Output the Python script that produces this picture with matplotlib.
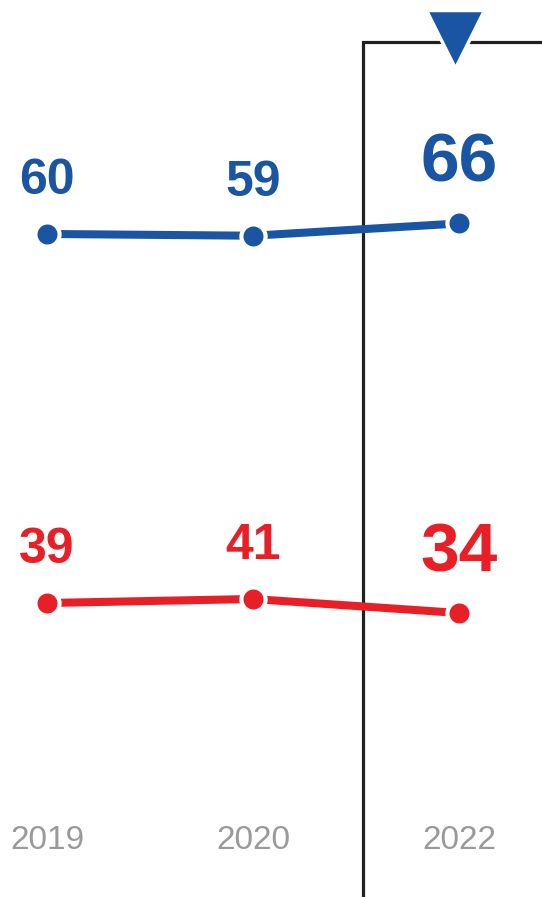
import matplotlib
matplotlib.use('Agg')
import matplotlib.pyplot as plt
import matplotlib.transforms as mtransforms

years = ['2019', '2020', '2022']
blue_vals = [60, 59, 66]
red_vals = [39, 41, 34]

BLUE = '#1a55a3'
RED = '#e81f27'
GRAY = '#9a9a9a'
DARK = '#231f20'

fig = plt.figure(figsize=(5.42, 8.97), dpi=100)
ax_b = fig.add_axes([0, 0, 1, 1])
ax_r = fig.add_axes([0, 0, 1, 1])
xs = list(range(len(years)))

for ax, vals, col, lims in [(ax_b, blue_vals, BLUE, (-318.9, 193.7)),
                            (ax_r, red_vals, RED, (-108, 340.5))]:
    ax.set_xlim(-0.228, 2.403)
    ax.set_ylim(*lims)
    ax.axis('off')
    ax.patch.set_alpha(0)
    ax.plot(xs, vals, color=col, lw=5.8, solid_capstyle='butt', zorder=3,
            marker='o', ms=17.4, mfc=col, mec='white', mew=3)
    for i, v in enumerate(vals):
        big = i == len(vals) - 1
        ax.annotate(str(v), (xs[i], v), xytext=(0, 30 if big else 28.5),
                    textcoords='offset points', ha='center', va='baseline',
                    fontsize=50 if big else 36, fontweight='bold', color=col,
                    family='Liberation Sans', zorder=4)

# highlight frame around the latest year
trans = mtransforms.blended_transform_factory(ax_b.transData, ax_b.transAxes)
frame_x = 1.534
top_y = 1 - 42 / 897
ax_b.plot([frame_x, frame_x, 2.403], [0, top_y, top_y], color=DARK, lw=2.3,
          transform=trans, zorder=1, solid_joinstyle='miter')
ax_b.plot([xs[-1] - 0.019], [1 - 39 / 897], marker='v', ms=41.8, color=BLUE,
          mec='white', mew=2.5, transform=trans, zorder=5)

for i, y in enumerate(years):
    ax_b.text(xs[i], 1 - 840 / 897, y, transform=trans, ha='center', va='center',
              fontsize=24, color=GRAY, family='Liberation Sans')

fig.savefig('out.png', dpi=100)
